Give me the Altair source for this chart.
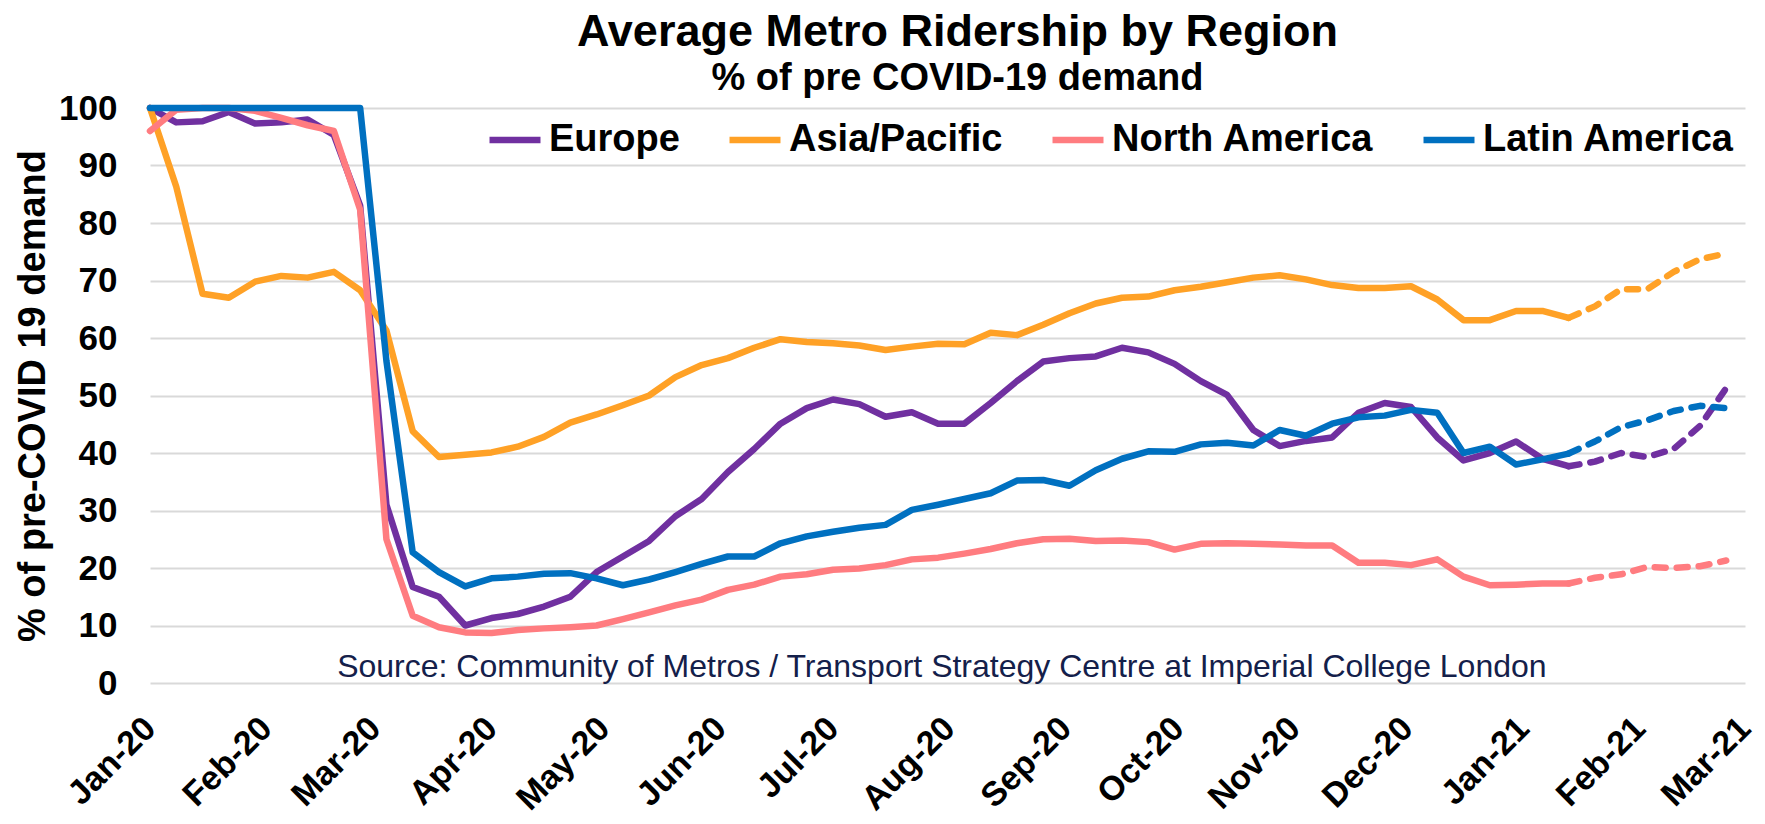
import altair as alt
import pandas as pd

FONT = "Liberation Sans"

# weekly observations, first week of Jan-2020 .. late Feb-2021
dates = pd.date_range("2020-01-01", periods=61, freq="7D").strftime("%Y-%m-%dT00:00:00").tolist()

europe = [100, 97.5, 97.7, 99.3, 97.3, 97.5, 98, 95.3, 83, 31,
          16.7, 15, 10, 11.3, 12, 13.3, 15, 19.3, 22, 24.7,
          29, 32, 36.7, 40.7, 45.1, 47.8, 49.3, 48.5, 46.3, 47.1,
          45.1, 45.1, 48.7, 52.5, 55.9, 56.5, 56.8, 58.3, 57.5, 55.5,
          52.5, 50.1, 44, 41.2, 42.1, 42.7, 47, 48.7, 48, 42.7,
          38.7, 40, 42, 39, 37.7, 38.5, 40, 39.3, 40.7, 44.7, 51.3]

asia_pacific = [100, 86.3, 67.7, 67, 69.8, 70.8, 70.5, 71.5, 68.3, 61.3,
                43.8, 39.3, 39.7, 40.1, 41.1, 42.8, 45.3, 46.7, 48.3, 50,
                53.2, 55.3, 56.5, 58.3, 59.8, 59.3, 59.1, 58.7, 57.9, 58.5,
                59, 58.9, 60.9, 60.5, 62.3, 64.3, 66, 67, 67.2, 68.3,
                68.9, 69.7, 70.5, 70.9, 70.2, 69.2, 68.7, 68.7, 69, 66.7,
                63.1, 63.1, 64.7, 64.7, 63.5, 65.5, 68.5, 68.5, 71.5, 73.7, 74.7]

north_america = [96, 99.7, 100, 100, 99.5, 98.3, 97, 96, 82.3, 25,
                 11.7, 9.7, 8.8, 8.7, 9.2, 9.5, 9.7, 10, 11.1, 12.3,
                 13.5, 14.5, 16.2, 17.1, 18.5, 18.9, 19.7, 19.9, 20.5, 21.5,
                 21.8, 22.5, 23.3, 24.3, 25, 25.1, 24.7, 24.8, 24.5, 23.2,
                 24.2, 24.3, 24.2, 24.1, 23.9, 23.9, 20.9, 20.9, 20.5, 21.5,
                 18.5, 17, 17.1, 17.3, 17.3, 18.3, 18.9, 20.2, 20, 20.3, 21.3]

latin_america = [100, 100, 100, 100, 100, 100, 100, 100, 100, 56,
                 22.7, 19.3, 16.8, 18.2, 18.5, 19, 19.1, 18.2, 17, 18,
                 19.3, 20.7, 22, 22, 24.3, 25.5, 26.3, 27, 27.5, 30.1,
                 31, 32, 33, 35.2, 35.3, 34.3, 37, 39, 40.3, 40.2,
                 41.5, 41.8, 41.3, 44, 43, 45.1, 46.2, 46.5, 47.5, 47,
                 40, 41.1, 38, 38.9, 39.9, 42, 44.5, 45.7, 47.3, 48.2, 47.8]

regions = ["Europe", "Asia/Pacific", "North America", "Latin America"]
colors = ["#7030A0", "#FFA126", "#FF7C80", "#0070C0"]
series = [europe, asia_pacific, north_america, latin_america]
dashed_from = 54  # index of the last solid point / first dashed point

month_ticks = [(2020, m) for m in range(1, 13)] + [(2021, 1), (2021, 2), (2021, 3)]
source_text = "Source: Community of Metros / Transport Strategy Centre at Imperial College London"

rows = []
for name, vals in zip(regions, series):
    for i, (d, v) in enumerate(zip(dates, vals)):
        if i <= dashed_from:
            rows.append({"region": name, "date": d, "value": v, "part": "solid", "k": i})
        if i >= dashed_from:
            rows.append({"region": name, "date": d, "value": v, "part": "dashed", "k": i})
df = pd.DataFrame(rows)

PLOT_W, PLOT_H = 1595, 575
LINE_W = 6.5

x_enc = alt.X(
    "date:T",
    scale=alt.Scale(domain=[alt.DateTime(year=2020, month=1, date=1),
                            alt.DateTime(year=2021, month=3, date=1)]),
    axis=alt.Axis(
        values=[alt.DateTime(year=y, month=m, date=1) for y, m in month_ticks],
        format="%b-%y", labelAngle=315, labelAlign="right", labelBaseline="middle",
        labelPadding=40, labelFontSize=34, labelFontWeight="bold", labelFont=FONT,
        labelColor="black", labelOverlap=False, ticks=False, tickSize=0,
        domain=False, grid=False, title=None,
    ),
)
y_enc = alt.Y(
    "value:Q",
    scale=alt.Scale(domain=[0, 100], nice=False),
    axis=alt.Axis(
        values=list(range(0, 101, 10)), grid=True, gridColor="#D9D9D9", gridWidth=2,
        domain=False, ticks=False, tickSize=0, labelPadding=33, labelFontSize=35,
        labelFontWeight="bold", labelFont=FONT, labelColor="black",
        title="% of pre-COVID 19 demand", titleFontSize=38, titleFont=FONT,
        titleFontWeight="bold", titleColor="black", titleX=-106,
        titleBaseline="alphabetic", titleAngle=270,
    ),
)
color_scale = alt.Scale(domain=regions, range=colors)

solid = alt.Chart(df).transform_filter(alt.datum.part == "solid").mark_line(
    strokeWidth=LINE_W, strokeJoin="round", strokeCap="round"
).encode(
    x=x_enc, y=y_enc,
    color=alt.Color("region:N", scale=color_scale, legend=alt.Legend(
        orient="none", legendX=336, legendY=3, direction="horizontal", title=None,
        symbolType="stroke", symbolSize=2600, symbolStrokeWidth=6.5,
        labelFontSize=38, labelFontWeight="bold", labelFont=FONT, labelColor="black",
        labelOffset=5, columnPadding=36, labelLimit=400,
    )),
    order="k:Q",
)

dashed = alt.Chart(df).transform_filter(alt.datum.part == "dashed").mark_line(
    strokeWidth=LINE_W, strokeDash=[11, 11], strokeCap="round", strokeJoin="round"
).encode(
    x=x_enc, y=y_enc,
    color=alt.Color("region:N", scale=color_scale, legend=None),
    order="k:Q",
)

source = alt.Chart(pd.DataFrame({"t": [source_text]})).mark_text(
    font=FONT, fontSize=32, color="#14204A", align="center", baseline="alphabetic"
).encode(
    x=alt.datum(alt.DateTime(year=2020, month=7, date=30), type="temporal"),
    y=alt.datum(1.0),
    text="t:N",
)

chart = alt.layer(solid, dashed, source).properties(
    width=PLOT_W, height=PLOT_H,
    autosize=alt.AutoSizeParams(type="none"),
    padding={"left": 150, "top": 108, "right": 20, "bottom": 141},
    background="white",
    title=alt.TitleParams(
        text="Average Metro Ridership by Region",
        subtitle="% of pre COVID-19 demand",
        font=FONT, subtitleFont=FONT, fontSize=45, subtitleFontSize=38,
        fontWeight="bold", subtitleFontWeight="bold", color="black",
        subtitleColor="black", anchor="middle", frame="group",
        offset=-7, subtitlePadding=5, dx=10,
    ),
).configure_view(stroke=None)

chart.save("out.html", embed_options={"renderer": "svg", "actions": False})
